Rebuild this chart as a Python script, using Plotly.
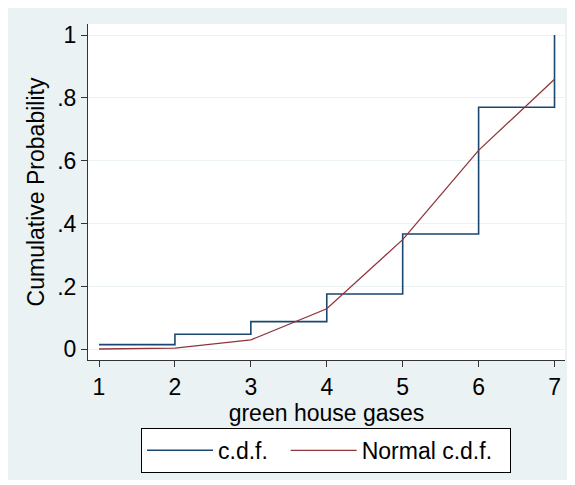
import plotly.graph_objects as go

# datos
gases = [1, 2, 3, 4, 5, 6, 7]
cdf = [0.015, 0.048, 0.088, 0.176, 0.367, 0.770, 1.0]
normal_cdf = [0.001, 0.004, 0.030, 0.129, 0.349, 0.633, 0.859]

y_ticks = [0, 0.2, 0.4, 0.6, 0.8, 1]
y_labels = ['0', '.2', '.4', '.6', '.8', '1']

fuente = 'Liberation Sans, Arial, sans-serif'

fig = go.Figure()

# función de distribución empírica (escalonada)
fig.add_trace(go.Scatter(
    x=gases, y=cdf,
    mode='lines',
    line=dict(color='#1A476F', width=1.6, shape='hv'),
    name='c.d.f.\u00a0\u00a0'
))

# c.d.f. normal
fig.add_trace(go.Scatter(
    x=gases, y=normal_cdf,
    mode='lines',
    line=dict(color='#90353B', width=1.3),
    name='Normal c.d.f.\u00a0\u00a0'
))

# la página deja 8px blancos arriba/izquierda (margen del body)
fig.update_layout(
    width=563, height=472,
    margin=dict(l=80, r=6, t=16, b=120),
    paper_bgcolor='#EAF2F3',
    plot_bgcolor='white',
    font=dict(family=fuente, size=23, color='black'),
    showlegend=True,
    legend=dict(
        orientation='h',
        x=0.499, xanchor='center',
        y=-0.202, yanchor='top',
        bgcolor='white',
        bordercolor='black', borderwidth=1,
        font=dict(size=23),
        itemwidth=66,
    ),
)

fig.update_xaxes(
    range=[0.855, 7.138],
    tickvals=gases,
    ticks='outside', ticklen=6, tickcolor='#333',
    showline=True, linecolor='#333', linewidth=1,
    showgrid=False, zeroline=False,
    title=dict(text='green house gases', font=dict(size=23), standoff=0),
    tickfont=dict(size=23),
)

fig.update_yaxes(
    range=[-0.034, 1.035],
    tickvals=y_ticks, ticktext=y_labels,
    ticks='outside', ticklen=6, tickcolor='#333',
    showline=True, linecolor='#333', linewidth=1,
    showgrid=True, gridcolor='#EAF2F3', gridwidth=1,
    zeroline=False,
    title=dict(text='Cumulative Probability', font=dict(size=23), standoff=6),
    tickfont=dict(size=23),
)

fig.write_html('out.html')
